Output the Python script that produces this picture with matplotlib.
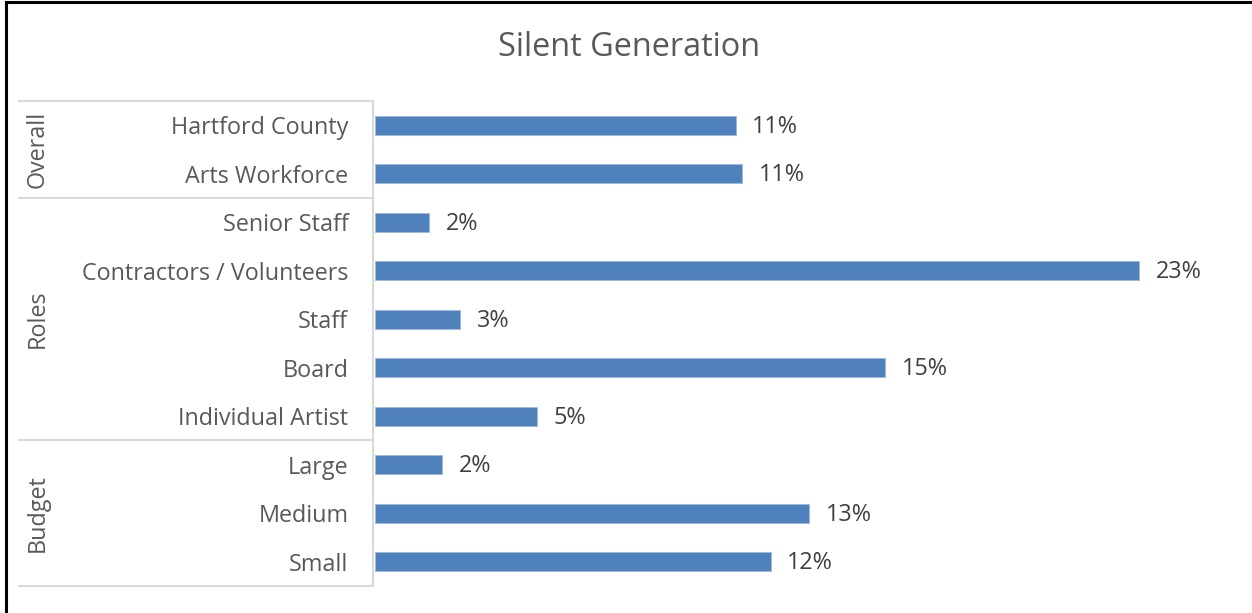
import matplotlib
matplotlib.use("Agg")
import matplotlib.pyplot as plt
from matplotlib.lines import Line2D
import matplotlib.transforms as mtransforms

plt.rcParams["font.family"] = ["Open Sans", "DejaVu Sans"]

# Data
title = "Silent Generation"
categories = ["Hartford County", "Arts Workforce",
              "Senior Staff", "Contractors / Volunteers", "Staff", "Board", "Individual Artist",
              "Large", "Medium", "Small"]
values = [10.86, 11.06, 1.64, 23.0, 2.58, 15.36, 4.89, 2.02, 13.07, 11.91]
groups = ["Overall", "Roles", "Budget"]
group_sizes = [2, 5, 3]

W, H = 1252, 613
fig = plt.figure(figsize=(W / 100, H / 100), dpi=100)
fig.patch.set_facecolor("white")

# plot area in pixel terms
left_px, right_px, top_px, bot_px = 374.7, 1205.7, 101, 586
ax = fig.add_axes([left_px / W, 1 - bot_px / H, (right_px - left_px) / W, (bot_px - top_px) / H])

bar_color = "#4F81BD"
text_color = "#595959"
line_color = "#D9D9D9"
fs = 16.8

y = list(range(len(categories)))
bars = ax.barh(y, values, height=0.4, color=bar_color, edgecolor="#9DB9DE", linewidth=0.6)
ax.set_xlim(0, 25)
ax.set_ylim(len(categories) - 0.5, -0.5)

for yi, v in zip(y, values):
    ax.annotate(f"{v:.0f}%", xy=(v, yi), xytext=(12, -1), textcoords="offset points",
                ha="left", va="center", fontsize=fs, color="#404040")

ax.set_yticks(y)
ax.set_yticklabels(categories, fontsize=fs, color=text_color)
ax.tick_params(axis="y", length=0, pad=19)
ax.set_xticks([])
for s in ax.spines.values():
    s.set_visible(False)

# grouped category axis: divider lines, vertical rule and group names
trans = mtransforms.blended_transform_factory(ax.transAxes, ax.transData)
x_start = (19 - left_px) / (right_px - left_px)
x_axis = (373 - left_px) / (right_px - left_px)
bounds = [-0.5]
for n in group_sizes:
    bounds.append(bounds[-1] + n)
for b in bounds:
    ax.add_line(Line2D([x_start, x_axis], [b, b], transform=trans, color=line_color,
                       lw=1.5, clip_on=False))
ax.add_line(Line2D([x_axis, x_axis], [bounds[0], bounds[-1]], transform=trans,
                   color=line_color, lw=1.5, clip_on=False))
x_group = (38 - left_px) / (right_px - left_px)
for g, lo, hi in zip(groups, bounds[:-1], bounds[1:]):
    ax.text(x_group, (lo + hi) / 2, g, transform=trans, rotation=90, ha="center",
            va="center", fontsize=fs, color=text_color)

fig.text(629 / W, 1 - 48 / H, title, ha="center", va="center", fontsize=23.4, color=text_color)

# frame edges along the top and left of the image
fig.add_artist(Line2D([6 / W, 1], [1 - 1.8 / H, 1 - 1.8 / H], color="black", lw=2.2,
                      transform=fig.transFigure))
fig.add_artist(Line2D([6 / W, 6 / W], [0, 1 - 1.8 / H], color="black", lw=2.2,
                      transform=fig.transFigure))

fig.savefig("out.png", dpi=100, facecolor="white")
